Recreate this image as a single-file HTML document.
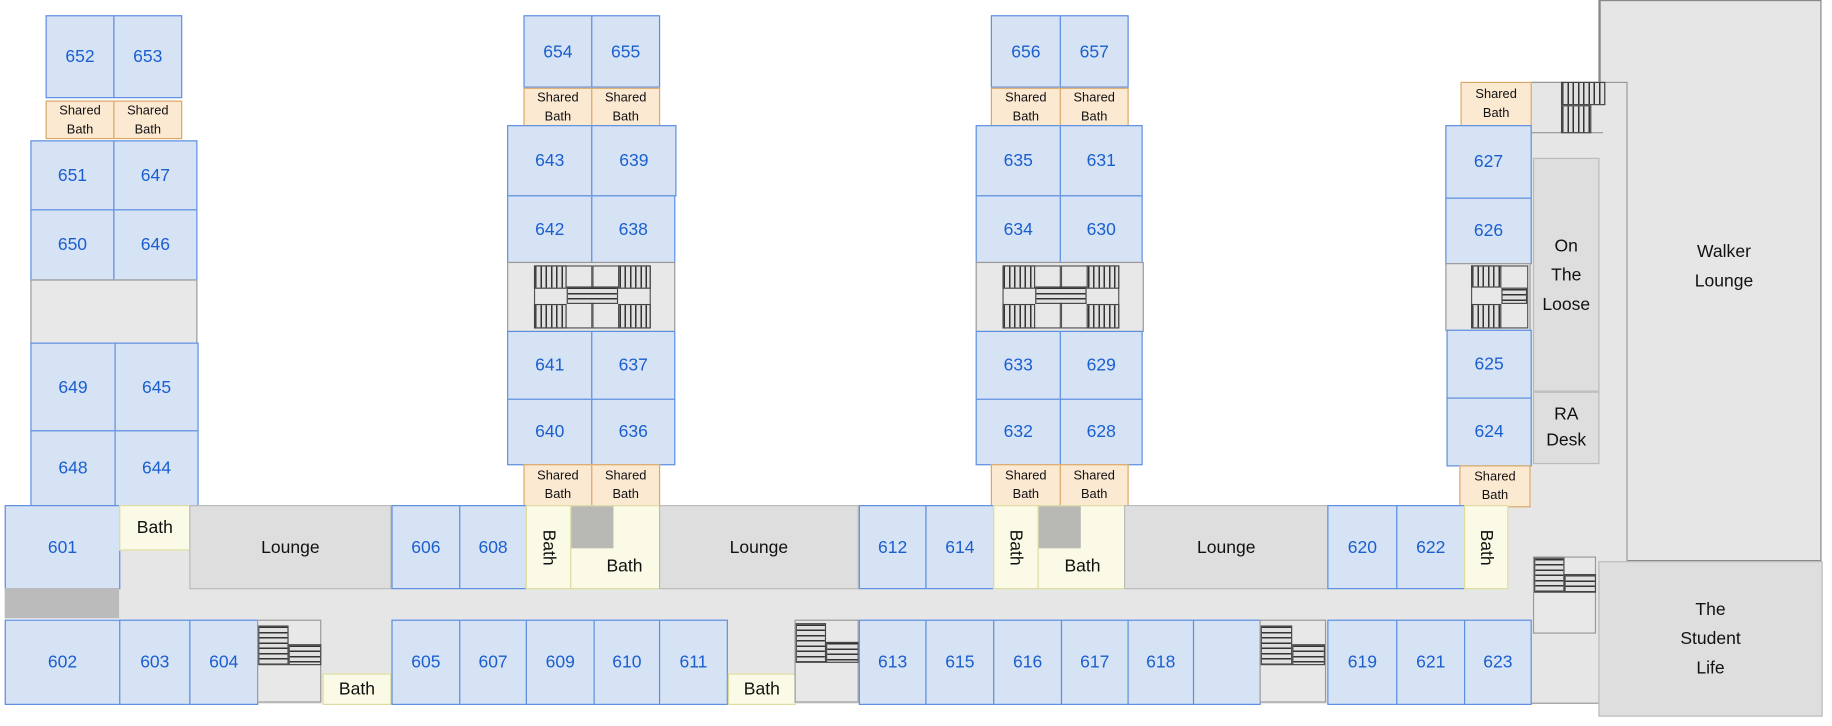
<!DOCTYPE html>
<html><head><meta charset="utf-8"><style>
html,body{margin:0;padding:0;background:#fff;overflow:hidden}
#w{position:relative;width:1568px;height:621px;transform:scale(1.1684,1.1691);transform-origin:0 0;font-family:"Liberation Sans",sans-serif}
#w div{position:absolute;box-sizing:border-box;display:flex;align-items:center;justify-content:center;text-align:center}
.r{background:#d6e3f5;border:1.5px solid #5b8de0;color:#1b5fcf;font-size:15px}
.s{background:#fce9d2;border:1.5px solid #d9a866;color:#111;font-size:11px;line-height:16px}
.b{background:#fafae6;border:1.5px solid #dcdca0;color:#111;font-size:15px}
.l{background:#dedede;border:1.5px solid #bbb;color:#111;font-size:15px}
.g{background:#e8e8e8;border:1.5px solid #999}
.v{writing-mode:vertical-rl}
.sv{background:repeating-linear-gradient(90deg,#333 0 1.3px,#e0e0e0 1.3px 4.5px);border:1px solid #444}
.sh{background:repeating-linear-gradient(180deg,#333 0 1.3px,#e0e0e0 1.3px 4.5px);border:1px solid #444}
.fr{border:1.5px solid #555}
</style></head><body><div id="w">
<div style="left:102px;top:432px;width:1210px;height:170px;background:#e6e6e6"></div>
<div style="left:1369px;top:0;width:190px;height:480px;background:#e6e6e6;border:1.5px solid #888;border-left:none;color:#111;font-size:15px;line-height:25px;padding-bottom:24px;padding-left:24px">Walker<br>Lounge</div>
<div style="left:1368px;top:0;width:2px;height:71px;background:#888"></div>
<div style="left:1310px;top:70px;width:83px;height:532px;background:#e6e6e6;border:1.5px solid #999;border-left:none"></div>
<div style="left:1310px;top:70px;width:62px;height:44px;border:1.5px solid #999;border-left:none;border-right:none"></div>
<div class="sv" style="left:1336px;top:70px;width:38px;height:20px"></div>
<div class="sv" style="left:1336px;top:90px;width:26px;height:24px"></div>
<div class="l" style="left:1312px;top:135px;width:57px;height:200px;line-height:25px;font-size:15px">On<br>The<br>Loose</div>
<div class="l" style="left:1312px;top:335px;width:57px;height:62px;line-height:22px;font-size:15px">RA<br>Desk</div>
<div style="left:1368px;top:480px;width:192px;height:133px;background:#dedede;border:1.5px solid #bbb;color:#111;font-size:15px;line-height:25px">The<br>Student<br>Life</div>
<div class="g" style="left:1312px;top:476px;width:54px;height:66px;background:#e8e8e8"></div>
<div class="sh" style="left:1313px;top:477px;width:26px;height:30px"></div>
<div class="sh" style="left:1339px;top:491px;width:27px;height:16px"></div>

<!-- wing 1 -->
<div class="r" style="left:39px;top:13px;width:59px;height:71px">652</div>
<div class="r" style="left:97px;top:13px;width:59px;height:71px">653</div>
<div class="s" style="left:39px;top:86px;width:59px;height:33px">Shared<br>Bath</div>
<div class="s" style="left:97px;top:86px;width:59px;height:33px">Shared<br>Bath</div>
<div class="r" style="left:26px;top:120px;width:72px;height:60px">651</div>
<div class="r" style="left:97px;top:120px;width:72px;height:60px">647</div>
<div class="r" style="left:26px;top:179px;width:72px;height:61px">650</div>
<div class="r" style="left:97px;top:179px;width:72px;height:61px">646</div>
<div class="g" style="left:26px;top:239px;width:143px;height:55px"></div>
<div class="r" style="left:26px;top:293px;width:73px;height:76px">649</div>
<div class="r" style="left:98px;top:293px;width:72px;height:76px">645</div>
<div class="r" style="left:26px;top:368px;width:73px;height:65px">648</div>
<div class="r" style="left:98px;top:368px;width:72px;height:65px">644</div>

<!-- wing 2 -->
<div class="r" style="left:448px;top:13px;width:59px;height:62px">654</div>
<div class="r" style="left:506px;top:13px;width:59px;height:62px">655</div>
<div class="s" style="left:448px;top:75px;width:59px;height:33px">Shared<br>Bath</div>
<div class="s" style="left:506px;top:75px;width:59px;height:33px">Shared<br>Bath</div>
<div class="r" style="left:434px;top:107px;width:73px;height:61px">643</div>
<div class="r" style="left:506px;top:107px;width:73px;height:61px">639</div>
<div class="r" style="left:434px;top:167px;width:73px;height:58px">642</div>
<div class="r" style="left:506px;top:167px;width:72px;height:58px">638</div>
<div class="g" style="left:434px;top:224px;width:144px;height:60px"></div>
<div class="fr" style="left:457px;top:227px;width:50px;height:54px"></div>
<div class="fr" style="left:507px;top:227px;width:50px;height:54px"></div>
<div class="sv" style="left:457px;top:227px;width:28px;height:20px"></div>
<div class="sv" style="left:457px;top:260px;width:28px;height:21px"></div>
<div class="sh" style="left:485px;top:245px;width:44px;height:15px"></div>
<div class="sv" style="left:529px;top:227px;width:28px;height:20px"></div>
<div class="sv" style="left:529px;top:260px;width:28px;height:21px"></div>
<div class="r" style="left:434px;top:283px;width:73px;height:59px">641</div>
<div class="r" style="left:506px;top:283px;width:72px;height:59px">637</div>
<div class="r" style="left:434px;top:341px;width:73px;height:57px">640</div>
<div class="r" style="left:506px;top:341px;width:72px;height:57px">636</div>
<div class="s" style="left:448px;top:397px;width:59px;height:36px">Shared<br>Bath</div>
<div class="s" style="left:506px;top:397px;width:59px;height:36px">Shared<br>Bath</div>

<!-- wing 3 -->
<div class="r" style="left:848px;top:13px;width:60px;height:62px">656</div>
<div class="r" style="left:907px;top:13px;width:59px;height:62px">657</div>
<div class="s" style="left:848px;top:75px;width:60px;height:33px">Shared<br>Bath</div>
<div class="s" style="left:907px;top:75px;width:59px;height:33px">Shared<br>Bath</div>
<div class="r" style="left:835px;top:107px;width:73px;height:61px">635</div>
<div class="r" style="left:907px;top:107px;width:71px;height:61px">631</div>
<div class="r" style="left:835px;top:167px;width:73px;height:58px">634</div>
<div class="r" style="left:907px;top:167px;width:71px;height:58px">630</div>
<div class="g" style="left:835px;top:224px;width:144px;height:60px"></div>
<div class="fr" style="left:858px;top:227px;width:50px;height:54px"></div>
<div class="fr" style="left:908px;top:227px;width:50px;height:54px"></div>
<div class="sv" style="left:858px;top:227px;width:28px;height:20px"></div>
<div class="sv" style="left:858px;top:260px;width:28px;height:21px"></div>
<div class="sh" style="left:886px;top:245px;width:44px;height:15px"></div>
<div class="sv" style="left:930px;top:227px;width:28px;height:20px"></div>
<div class="sv" style="left:930px;top:260px;width:28px;height:21px"></div>
<div class="r" style="left:835px;top:283px;width:73px;height:59px">633</div>
<div class="r" style="left:907px;top:283px;width:71px;height:59px">629</div>
<div class="r" style="left:835px;top:341px;width:73px;height:57px">632</div>
<div class="r" style="left:907px;top:341px;width:71px;height:57px">628</div>
<div class="s" style="left:848px;top:397px;width:60px;height:36px">Shared<br>Bath</div>
<div class="s" style="left:907px;top:397px;width:59px;height:36px">Shared<br>Bath</div>

<!-- wing 4 -->
<div class="s" style="left:1250px;top:70px;width:61px;height:38px">Shared<br>Bath</div>
<div class="r" style="left:1237px;top:107px;width:74px;height:63px">627</div>
<div class="r" style="left:1237px;top:169px;width:74px;height:57px">626</div>
<div class="g" style="left:1237px;top:225px;width:73px;height:58px"></div>
<div class="fr" style="left:1259px;top:227px;width:49px;height:54px"></div>
<div class="sv" style="left:1259px;top:227px;width:26px;height:19px"></div>
<div class="sv" style="left:1259px;top:260px;width:26px;height:21px"></div>
<div class="sh" style="left:1285px;top:246px;width:22px;height:14px"></div>
<div class="r" style="left:1238px;top:282px;width:73px;height:59px">625</div>
<div class="r" style="left:1238px;top:340px;width:73px;height:59px">624</div>
<div class="s" style="left:1249px;top:398px;width:61px;height:36px">Shared<br>Bath</div>

<!-- corridor top -->
<div class="r" style="left:4px;top:432px;width:99px;height:72px">601</div>
<div style="left:4px;top:503px;width:98px;height:26px;background:#bbb"></div>
<div class="b" style="left:102px;top:432px;width:61px;height:39px">Bath</div>
<div class="l" style="left:162px;top:432px;width:173px;height:72px">Lounge</div>
<div class="r" style="left:335px;top:432px;width:59px;height:72px">606</div>
<div class="r" style="left:393px;top:432px;width:58px;height:72px">608</div>
<div class="b v" style="left:450px;top:432px;width:39px;height:72px">Bath</div>
<div class="b" style="left:488px;top:432px;width:77px;height:72px;padding-top:32px;padding-left:16px">Bath</div>
<div style="left:489px;top:433px;width:36px;height:36px;background:#b8b8b4"></div>
<div class="l" style="left:564px;top:432px;width:171px;height:72px">Lounge</div>
<div class="r" style="left:735px;top:432px;width:58px;height:72px">612</div>
<div class="r" style="left:792px;top:432px;width:59px;height:72px">614</div>
<div class="b v" style="left:850px;top:432px;width:39px;height:72px">Bath</div>
<div class="b" style="left:888px;top:432px;width:75px;height:72px;padding-top:32px;padding-left:2px">Bath</div>
<div style="left:889px;top:433px;width:36px;height:36px;background:#b8b8b4"></div>
<div class="l" style="left:962px;top:432px;width:175px;height:72px">Lounge</div>
<div class="r" style="left:1136px;top:432px;width:60px;height:72px">620</div>
<div class="r" style="left:1195px;top:432px;width:59px;height:72px">622</div>
<div class="b v" style="left:1253px;top:432px;width:38px;height:72px">Bath</div>

<!-- corridor bottom -->
<div class="r" style="left:4px;top:530px;width:99px;height:73px">602</div>
<div class="r" style="left:102px;top:530px;width:61px;height:73px">603</div>
<div class="r" style="left:162px;top:530px;width:59px;height:73px">604</div>
<div class="g" style="left:220px;top:530px;width:55px;height:71px"></div>
<div class="sh" style="left:221px;top:535px;width:26px;height:34px"></div>
<div class="sh" style="left:247px;top:551px;width:28px;height:18px"></div>
<div class="b" style="left:276px;top:576px;width:59px;height:27px">Bath</div>
<div class="r" style="left:335px;top:530px;width:59px;height:73px">605</div>
<div class="r" style="left:393px;top:530px;width:58px;height:73px">607</div>
<div class="r" style="left:450px;top:530px;width:59px;height:73px">609</div>
<div class="r" style="left:508px;top:530px;width:57px;height:73px">610</div>
<div class="r" style="left:564px;top:530px;width:59px;height:73px">611</div>
<div class="b" style="left:623px;top:576px;width:58px;height:27px">Bath</div>
<div class="g" style="left:680px;top:530px;width:55px;height:71px"></div>
<div class="sh" style="left:681px;top:533px;width:26px;height:34px"></div>
<div class="sh" style="left:707px;top:549px;width:28px;height:18px"></div>
<div class="r" style="left:735px;top:530px;width:58px;height:73px">613</div>
<div class="r" style="left:792px;top:530px;width:59px;height:73px">615</div>
<div class="r" style="left:850px;top:530px;width:59px;height:73px">616</div>
<div class="r" style="left:908px;top:530px;width:58px;height:73px">617</div>
<div class="r" style="left:965px;top:530px;width:57px;height:73px">618</div>
<div class="r" style="left:1021px;top:530px;width:58px;height:73px"></div>
<div class="g" style="left:1078px;top:530px;width:57px;height:71px"></div>
<div class="sh" style="left:1079px;top:535px;width:27px;height:34px"></div>
<div class="sh" style="left:1106px;top:551px;width:28px;height:18px"></div>
<div class="r" style="left:1136px;top:530px;width:60px;height:73px">619</div>
<div class="r" style="left:1195px;top:530px;width:59px;height:73px">621</div>
<div class="r" style="left:1253px;top:530px;width:58px;height:73px">623</div>
</div></body></html>
